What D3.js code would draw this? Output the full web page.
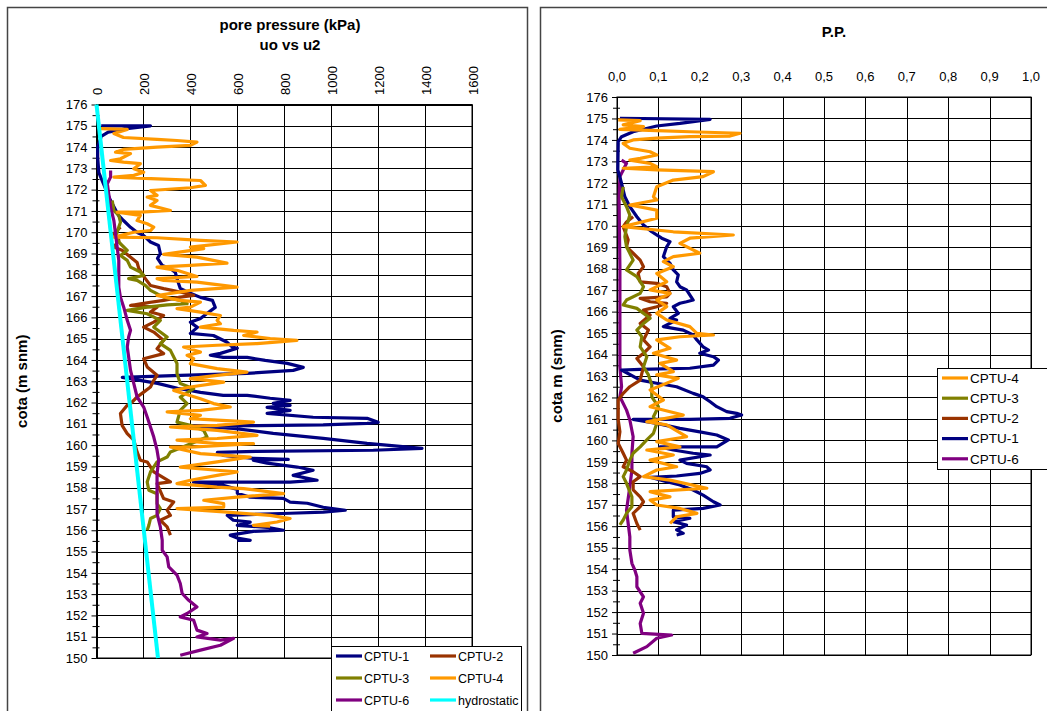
<!DOCTYPE html>
<html>
<head>
<meta charset="utf-8">
<script src="https://cdn.jsdelivr.net/npm/d3@7"></script>
<style>
  body { margin: 0; background: #fff; }
  svg { display: block; font-family: "Liberation Sans", Arial, sans-serif; }
</style>
</head>
<body>
<div id="chart"></div>
<script>
// [elevation (m snm), value] pairs

// left chart: pore pressure u2 (kPa)
var cptu1U = [[175.0,20],[175.0,230],[174.85,120],[174.7,50],[174.5,20],[174.0,5],[173.5,5],[172.8,10],[172.4,25],[171.49,60],[170.79,94],[170.55,115],[170.23,145],[169.99,174],[169.85,200],[169.54,230],[169.38,264],[169.0,272],[168.77,260],[168.44,280],[168.3,315],[168.11,336],[167.74,345],[167.36,357],[167.13,400],[166.94,443],[166.8,494],[166.47,506],[166.19,472],[165.95,443],[165.77,400],[165.53,430],[165.25,400],[165.15,498],[164.83,557],[164.6,579],[164.55,600],[164.31,528],[164.22,485],[164.12,540],[164.12,642],[163.98,719],[163.84,813],[163.65,881],[163.51,838],[163.37,642],[163.28,357],[163.18,110],[162.9,260],[162.67,345],[162.48,443],[162.34,540],[162.34,642],[162.2,740],[162.1,825],[161.96,753],[161.87,825],[161.77,727],[161.63,825],[161.49,727],[161.31,923],[161.26,1153],[161.07,1200],[161.02,1153],[160.95,966],[160.92,685],[160.9,400],[160.79,583],[160.55,753],[160.32,966],[160.08,1153],[159.85,1387],[159.76,1179],[159.71,685],[159.66,515],[159.52,540],[159.38,668],[159.33,817],[159.29,668],[159.15,727],[158.97,855],[158.82,923],[158.58,838],[158.35,940],[158.26,825],[158.26,413],[158.11,540],[157.92,600],[157.74,600],[157.55,655],[157.5,796],[157.32,825],[157.27,898],[157.08,966],[156.94,1060],[156.85,966],[156.8,825],[156.7,557],[156.47,583],[156.38,655],[156.23,600],[156.14,727],[156.0,796],[155.95,668],[155.77,570],[155.63,600],[155.53,655],[155.53,600]];
var cptu2U = [[170.24,102],[169.93,74],[169.62,95],[169.3,74],[169.15,109],[168.58,173],[168.3,180],[167.82,208],[167.5,230],[167.35,286],[167.19,357],[167.03,414],[166.95,357],[166.8,286],[166.64,187],[166.56,145],[166.48,258],[166.25,230],[166.09,286],[165.78,244],[165.54,201],[165.31,244],[164.92,286],[164.53,258],[164.3,286],[164.06,201],[163.67,216],[163.28,258],[163.04,244],[162.73,230],[162.49,201],[162.26,173],[161.95,145],[161.87,131],[161.48,102],[160.93,109],[160.54,131],[160.23,159],[159.68,173],[159.29,187],[159.21,216],[158.74,244],[158.27,315],[158.19,258],[157.49,286],[157.33,329],[156.94,301],[156.7,315],[156.47,272],[156.16,301],[155.77,315]];
var cptu3U = [[171.49,67],[171.02,74],[170.79,95],[170.47,102],[170.24,95],[169.77,81],[169.46,102],[169.15,131],[168.91,102],[168.68,131],[168.36,145],[168.13,187],[167.97,201],[167.82,137],[167.74,173],[167.5,208],[167.27,230],[166.95,286],[166.8,357],[166.64,386],[166.59,301],[166.48,216],[166.33,131],[166.17,216],[165.86,272],[165.54,244],[165.31,272],[165.08,301],[164.77,272],[164.45,315],[163.83,343],[163.36,343],[162.89,357],[162.65,414],[162.26,357],[161.95,386],[161.63,357],[161.08,343],[160.93,400],[160.69,457],[160.38,471],[159.99,386],[159.68,315],[159.44,301],[159.21,258],[158.74,230],[158.27,216],[157.88,223],[157.72,258],[157.25,258],[157.02,272],[156.7,258],[156.55,230],[156.23,223],[156.0,216]];
var cptu4U = [[174.87,17],[174.83,131],[174.64,74],[174.45,115],[174.36,258],[174.31,343],[174.23,428],[174.08,400],[174.0,258],[173.89,115],[173.76,81],[173.69,145],[173.45,102],[173.37,60],[173.29,115],[173.22,187],[172.98,159],[172.82,201],[172.67,159],[172.59,74],[172.51,258],[172.43,443],[172.2,464],[172.09,400],[171.96,230],[171.73,258],[171.65,216],[171.49,258],[171.26,230],[171.02,315],[170.94,187],[170.94,88],[170.79,187],[170.55,173],[170.4,216],[170.24,244],[170.08,230],[170.0,159],[169.77,74],[169.74,258],[169.62,443],[169.54,599],[169.3,400],[169.23,457],[168.96,286],[168.83,428],[168.55,556],[168.44,400],[168.36,258],[168.21,343],[167.92,428],[167.82,258],[167.74,286],[167.66,428],[167.42,599],[167.27,400],[167.03,258],[166.8,357],[166.72,443],[166.48,400],[166.41,343],[166.25,443],[166.09,528],[165.86,514],[165.7,528],[165.54,443],[165.39,584],[165.31,684],[165.15,627],[165.0,740],[164.92,854],[164.77,684],[164.69,514],[164.61,371],[164.37,443],[164.22,386],[164.06,414],[163.83,400],[163.59,514],[163.43,641],[163.28,514],[163.12,400],[162.96,542],[162.73,400],[162.57,329],[162.18,443],[161.95,499],[161.79,570],[161.63,443],[161.56,301],[161.4,443],[161.24,400],[161.08,669],[160.93,514],[160.85,315],[160.69,514],[160.46,684],[160.31,514],[160.23,343],[160.07,514],[160.07,669],[159.91,400],[159.91,315],[159.6,443],[159.44,655],[159.21,514],[158.97,357],[158.82,514],[158.74,599],[158.58,514],[158.35,400],[158.19,343],[158.03,514],[157.96,627],[157.72,797],[157.56,599],[157.41,457],[157.25,542],[157.09,542],[157.02,343],[156.86,542],[156.7,740],[156.55,825],[156.39,769],[156.23,669],[156.19,740]];
var cptu6U = [[172.9,60],[172.59,60],[172.28,46],[171.81,52],[171.18,60],[170.55,74],[169.93,81],[169.3,88],[168.68,95],[167.42,95],[166.95,102],[166.48,116],[165.86,131],[165.39,145],[165.08,137],[164.61,131],[164.14,137],[163.51,145],[162.89,159],[162.26,173],[161.79,201],[161.32,216],[160.85,230],[160.38,244],[159.76,258],[159.29,265],[158.66,258],[158.03,258],[157.41,258],[156.78,258],[156.16,272],[155.53,280],[155.06,280],[154.75,301],[154.28,308],[153.89,343],[153.5,357],[153.03,365],[152.71,393],[152.4,428],[152.09,386],[151.93,357],[151.77,414],[151.31,428],[151.15,471],[150.99,428],[150.84,528],[150.92,584],[150.6,528],[150.37,443],[150.13,357]];
var hydroU = [[176,0],[150,262]];

// right chart: P.P. ratio
var cptu1PP = [[175.01,0.007],[174.96,0.225],[174.77,0.152],[174.65,0.096],[174.38,0.039],[174.15,0.011],[173.92,0.003],[172.6,0.002],[171.98,0.011],[171.35,0.019],[170.89,0.031],[170.42,0.048],[170.04,0.064],[169.72,0.084],[169.42,0.108],[169.26,0.128],[169.02,0.120],[168.56,0.112],[168.25,0.128],[167.94,0.136],[167.71,0.148],[167.39,0.144],[167.16,0.152],[167.01,0.168],[166.54,0.184],[166.46,0.168],[166.39,0.152],[166.23,0.136],[165.92,0.148],[165.69,0.128],[165.61,0.144],[165.3,0.112],[165.14,0.160],[164.91,0.184],[164.68,0.193],[164.36,0.208],[164.21,0.221],[164.06,0.200],[163.9,0.233],[163.74,0.245],[163.51,0.233],[163.36,0.176],[163.31,0.056],[163.28,0.011],[162.81,0.056],[162.66,0.096],[162.5,0.144],[162.19,0.184],[162.03,0.208],[161.8,0.225],[161.57,0.241],[161.34,0.265],[161.26,0.289],[161.18,0.301],[161.03,0.273],[160.98,0.176],[160.98,0.039],[160.79,0.096],[160.56,0.152],[160.4,0.200],[160.25,0.241],[160.02,0.269],[159.7,0.241],[159.7,0.176],[159.7,0.104],[159.55,0.136],[159.4,0.184],[159.32,0.225],[159.08,0.152],[158.93,0.168],[158.77,0.217],[158.62,0.225],[158.46,0.200],[158.34,0.144],[158.28,0.080],[158.07,0.120],[157.92,0.152],[157.69,0.184],[157.45,0.208],[157.14,0.233],[156.99,0.249],[156.83,0.208],[156.75,0.136],[156.44,0.136],[156.37,0.176],[156.21,0.136],[156.06,0.168],[155.83,0.144],[155.67,0.160],[155.59,0.144]];
var cptu2PP = [[170.42,0.039],[170.18,0.023],[169.96,0.015],[169.34,0.027],[169.02,0.023],[168.72,0.039],[168.4,0.056],[168.09,0.064],[167.78,0.051],[167.39,0.056],[167.32,0.096],[167.16,0.120],[166.85,0.128],[166.69,0.120],[166.62,0.056],[166.46,0.080],[166.39,0.120],[166.23,0.096],[166.07,0.064],[165.84,0.080],[165.45,0.056],[165.14,0.076],[164.68,0.064],[164.36,0.080],[164.06,0.064],[163.82,0.048],[163.43,0.064],[163.12,0.060],[162.81,0.056],[162.5,0.031],[162.19,0.015],[161.88,0.003],[160.95,0.003],[160.4,0.007],[159.86,0.003],[159.4,0.015],[159.08,0.023],[158.77,0.015],[158.54,0.039],[158.31,0.056],[158.07,0.039],[157.69,0.039],[157.37,0.056],[157.14,0.064],[156.91,0.056],[156.6,0.039],[156.13,0.048],[155.82,0.056]];
var cptu3PP = [[171.82,0.015],[171.35,0.011],[170.89,0.023],[170.5,0.031],[169.96,0.023],[169.49,0.019],[169.02,0.023],[168.72,0.031],[168.4,0.039],[167.94,0.023],[167.63,0.048],[167.16,0.064],[166.85,0.056],[166.54,0.023],[166.31,0.015],[166.15,0.048],[165.69,0.080],[165.45,0.064],[165.14,0.048],[164.83,0.060],[164.36,0.056],[163.9,0.072],[163.43,0.064],[163.05,0.076],[162.58,0.084],[162.03,0.084],[161.57,0.100],[161.1,0.088],[160.79,0.096],[160.33,0.088],[160.02,0.072],[159.7,0.056],[159.4,0.039],[159.08,0.031],[158.62,0.023],[158.31,0.015],[158.0,0.023],[157.37,0.036],[156.91,0.036],[156.6,0.023],[156.29,0.015],[156.06,0.007]];
var cptu4PP = [[174.93,0.003],[174.9,0.056],[174.7,0.015],[174.62,0.064],[174.49,0.007],[174.43,0.096],[174.38,0.176],[174.31,0.297],[174.18,0.273],[174.15,0.176],[174.08,0.096],[174.0,0.039],[173.84,0.015],[173.61,0.031],[173.45,0.080],[173.3,0.096],[173.14,0.056],[173.06,0.031],[172.91,0.080],[172.75,0.096],[172.68,0.015],[172.6,0.096],[172.52,0.233],[172.29,0.208],[172.13,0.136],[171.82,0.096],[171.35,0.088],[171.2,0.096],[170.97,0.031],[170.73,0.096],[170.35,0.096],[169.96,0.015],[169.72,0.136],[169.57,0.281],[169.42,0.176],[169.18,0.152],[168.72,0.200],[168.56,0.136],[168.33,0.112],[168.09,0.136],[167.78,0.096],[167.39,0.120],[167.01,0.080],[166.85,0.128],[166.54,0.096],[166.23,0.120],[165.92,0.096],[165.61,0.120],[165.3,0.176],[164.99,0.193],[164.91,0.233],[164.83,0.152],[164.68,0.096],[164.29,0.128],[164.06,0.088],[163.74,0.144],[163.59,0.104],[163.2,0.136],[163.05,0.096],[162.89,0.148],[162.35,0.080],[161.88,0.112],[161.57,0.080],[161.18,0.160],[160.87,0.072],[160.72,0.120],[160.17,0.168],[159.94,0.096],[159.7,0.152],[159.55,0.072],[159.32,0.136],[159.08,0.080],[158.77,0.144],[158.62,0.096],[158.31,0.064],[158.15,0.128],[157.77,0.217],[157.61,0.080],[157.37,0.128],[157.22,0.080],[156.99,0.096],[156.83,0.152],[156.6,0.193],[156.44,0.144],[156.13,0.128]];
var cptu6PP = [[173.06,0.011],[172.91,0.023],[172.6,0.015],[172.29,0.007],[171.2,0.005],[169.65,0.006],[168.09,0.007],[166.54,0.007],[164.99,0.007],[163.43,0.007],[162.5,0.011],[162.03,0.007],[161.41,0.023],[160.95,0.031],[160.17,0.039],[159.4,0.036],[158.62,0.036],[157.84,0.031],[156.75,0.023],[156.13,0.027],[155.51,0.031],[154.89,0.031],[154.27,0.036],[153.96,0.043],[153.65,0.048],[153.18,0.048],[152.71,0.064],[152.41,0.056],[151.94,0.064],[151.47,0.056],[151.01,0.060],[150.93,0.132],[150.78,0.096],[150.39,0.072],[150.08,0.039]];

var elevTicks = d3.range(150, 177);
var kpaTicks = d3.range(0, 1601, 200);
var ppTicks = d3.range(0, 1.001, 0.1);

var colors = {
  'CPTU-1': '#000080',
  'CPTU-2': '#993300',
  'CPTU-3': '#808000',
  'CPTU-4': '#FF9900',
  'CPTU-6': '#800080',
  'hydrostatic': '#00FFFF'
};

var svg = d3.select('#chart').append('svg')
  .attr('width', 1047)
  .attr('height', 711);

// outer frames of the two charts
svg.append('rect')
  .attr('x', 7.5).attr('y', 7.5).attr('width', 520).attr('height', 720)
  .style('fill', '#fff').style('stroke', '#444').style('stroke-width', 1.5);
svg.append('rect')
  .attr('x', 540.5).attr('y', 7.5).attr('width', 520).attr('height', 720)
  .style('fill', '#fff').style('stroke', '#444').style('stroke-width', 1.5);

function drawPanel(opt) {
  var x = d3.scaleLinear().domain(opt.xDomain).range(opt.xRange);
  var y = d3.scaleLinear().domain([150, 176]).range(opt.yRange);
  var g = svg.append('g');

  // grid
  g.selectAll('.vgrid').data(opt.xTicks).enter().append('line')
    .attr('x1', function (d) { return Math.round(x(d)) + 0.5; })
    .attr('x2', function (d) { return Math.round(x(d)) + 0.5; })
    .attr('y1', opt.yRange[1]).attr('y2', opt.yRange[0])
    .style('stroke', '#000').style('stroke-width', 1);
  g.selectAll('.hgrid').data(elevTicks).enter().append('line')
    .attr('x1', opt.xRange[0]).attr('x2', opt.xRange[1])
    .attr('y1', function (d) { return Math.round(y(d)) + 0.5; })
    .attr('y2', function (d) { return Math.round(y(d)) + 0.5; })
    .style('stroke', '#000').style('stroke-width', 1);
  g.append('rect')
    .attr('x', opt.xRange[0]).attr('y', opt.yRange[1])
    .attr('width', opt.xRange[1] - opt.xRange[0])
    .attr('height', opt.yRange[0] - opt.yRange[1])
    .style('fill', 'none').style('stroke', '#000').style('stroke-width', 1);

  // y axis, major and minor ticks
  var yAxis = g.append('g')
    .attr('transform', 'translate(' + opt.xRange[0] + ',0)')
    .call(d3.axisLeft(y).tickValues(elevTicks).tickSize(5).tickPadding(4));
  yAxis.select('.domain').remove();
  yAxis.selectAll('text')
    .style('font-size', '13px')
    .style('font-family', '"Liberation Sans", Arial, sans-serif')
    .style('fill', '#000');
  g.append('g')
    .attr('transform', 'translate(' + (opt.xRange[0] + 3) + ',0)')
    .call(d3.axisLeft(y).tickValues(d3.range(150.5, 176, 1)).tickSize(7).tickFormat(''))
    .select('.domain').remove();

  // x tick labels on top
  var lab = g.selectAll('.xlab').data(opt.xTicks).enter().append('text')
    .style('font-size', opt.xFont)
    .style('fill', '#000')
    .text(opt.xFormat);
  if (opt.rotate) {
    lab.attr('transform', function (d) {
      return 'translate(' + (x(d) + 1) + ',' + opt.xLabelY + ') rotate(-90)';
    }).attr('dy', '0.35em');
  } else {
    lab.attr('x', function (d) { return x(d); })
      .attr('y', opt.xLabelY)
      .attr('text-anchor', 'middle');
  }

  var line = d3.line()
    .x(function (d) { return x(d[1]); })
    .y(function (d) { return y(d[0]); });

  opt.series.forEach(function (s) {
    g.append('path')
      .datum(s.data)
      .attr('d', line)
      .style('fill', 'none')
      .style('stroke', colors[s.name])
      .style('stroke-width', s.width || 3.2)
      .style('stroke-linejoin', 'round');
  });

  // titles
  opt.title.forEach(function (t, i) {
    g.append('text')
      .attr('x', opt.titleX).attr('y', opt.titleY + i * 20)
      .attr('text-anchor', 'middle')
      .style('font-size', '15px').style('font-weight', 'bold')
      .text(t);
  });
  g.append('text')
    .attr('transform', 'translate(' + opt.yTitleX + ',' + (opt.yRange[0] + opt.yRange[1]) / 2 + ') rotate(-90)')
    .attr('text-anchor', 'middle')
    .attr('dy', '0.35em')
    .style('font-size', '15px').style('font-weight', 'bold')
    .text(opt.yTitle);

  return g;
}

drawPanel({
  xDomain: [0, 1600], xRange: [96.5, 472], yRange: [658, 104.5],
  xTicks: kpaTicks, xFormat: function (d) { return d; },
  rotate: true, xLabelY: 95, xFont: '13px',
  title: ['pore pressure (kPa)', 'uo vs u2'], titleX: 290, titleY: 30,
  yTitle: 'cota (m snm)', yTitleX: 22,
  series: [
    {name: 'CPTU-1', data: cptu1U},
    {name: 'CPTU-2', data: cptu2U},
    {name: 'CPTU-3', data: cptu3U},
    {name: 'CPTU-4', data: cptu4U},
    {name: 'CPTU-6', data: cptu6U},
    {name: 'hydrostatic', data: hydroU, width: 4}
  ]
});

drawPanel({
  xDomain: [0, 1], xRange: [617, 1031], yRange: [655, 97],
  xTicks: ppTicks, xFormat: function (d) { return d.toFixed(1).replace('.', ','); },
  rotate: false, xLabelY: 81, xFont: '13px',
  title: ['P.P.'], titleX: 834, titleY: 37,
  yTitle: 'cota m (snm)', yTitleX: 557,
  series: [
    {name: 'CPTU-6', data: cptu6PP},
    {name: 'CPTU-1', data: cptu1PP},
    {name: 'CPTU-2', data: cptu2PP},
    {name: 'CPTU-3', data: cptu3PP},
    {name: 'CPTU-4', data: cptu4PP}
  ]
});

// legends
function legend(items, x0, y0, w, h, cols, dx, dy, fs) {
  var lg = svg.append('g');
  lg.append('rect')
    .attr('x', x0 + 0.5).attr('y', y0 + 0.5).attr('width', w).attr('height', h)
    .style('fill', '#fff').style('stroke', '#000').style('stroke-width', 1);
  items.forEach(function (name, i) {
    var cx = x0 + 5 + (i % cols) * dx;
    var cy = y0 + 10 + Math.floor(i / cols) * dy;
    lg.append('line')
      .attr('x1', cx).attr('x2', cx + 26).attr('y1', cy).attr('y2', cy)
      .style('stroke', colors[name]).style('stroke-width', 3.2);
    lg.append('text')
      .attr('x', cx + 28).attr('y', cy).attr('dy', '0.36em')
      .style('font-size', fs)
      .text(name);
  });
}
legend(['CPTU-1', 'CPTU-2', 'CPTU-3', 'CPTU-4', 'CPTU-6', 'hydrostatic'], 331, 646, 190, 80, 2, 94, 22, '12.5px');
legend(['CPTU-4', 'CPTU-3', 'CPTU-2', 'CPTU-1', 'CPTU-6'], 937, 368, 120, 101, 1, 0, 20.2, '13.5px');
</script>
</body>
</html>
